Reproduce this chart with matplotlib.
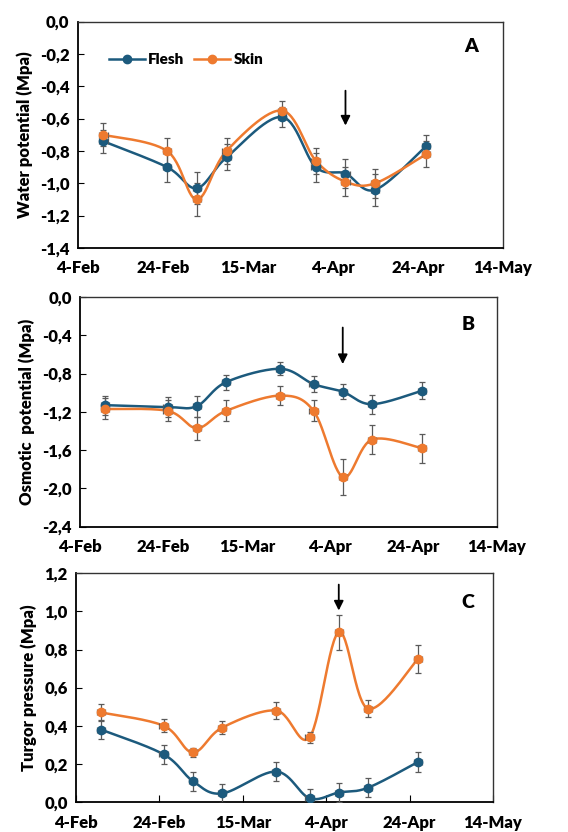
import numpy as np
import matplotlib
matplotlib.use('Agg')
import matplotlib.pyplot as plt
import matplotlib.dates as mdates
from datetime import date

plt.rcParams['font.family'] = ['Lato', 'DejaVu Sans']
plt.rcParams['font.weight'] = 'heavy'

FLESH = '#1c5a7d'; SKIN = '#ee7a2f'; ERRC = '#5a5a5a'

dates = [date(2016, 2, 10), date(2016, 2, 25), date(2016, 3, 3), date(2016, 3, 10), date(2016, 3, 23),
         date(2016, 3, 31), date(2016, 4, 7), date(2016, 4, 14), date(2016, 4, 26)]
tick_dates = [date(2016, 2, 4), date(2016, 2, 24), date(2016, 3, 15), date(2016, 4, 4), date(2016, 4, 24), date(2016, 5, 14)]
tick_labels = ['4-Feb', '24-Feb', '15-Mar', '4-Apr', '24-Apr', '14-May']

# A: water potential
wp_flesh = [-0.74, -0.90, -1.03, -0.84, -0.59, -0.90, -0.94, -1.04, -0.77]
wp_flesh_err = [0.07, 0.09, 0.10, 0.08, 0.06, 0.09, 0.09, 0.10, 0.07]
wp_skin = [-0.70, -0.80, -1.10, -0.80, -0.55, -0.86, -0.99, -1.00, -0.82]
wp_skin_err = [0.07, 0.08, 0.10, 0.08, 0.06, 0.08, 0.09, 0.09, 0.08]

# B: osmotic potential
op_flesh = [-1.13, -1.15, -1.14, -0.89, -0.75, -0.91, -0.99, -1.12, -0.98]
op_flesh_err = [0.10, 0.10, 0.11, 0.08, 0.07, 0.08, 0.08, 0.10, 0.09]
op_skin = [-1.17, -1.19, -1.37, -1.19, -1.03, -1.19, -1.88, -1.49, -1.58]
op_skin_err = [0.11, 0.11, 0.12, 0.11, 0.10, 0.11, 0.19, 0.15, 0.15]

# C: turgor pressure
tp_flesh = [0.38, 0.25, 0.11, 0.045, 0.16, 0.02, 0.05, 0.075, 0.21]
tp_flesh_err = [0.05, 0.05, 0.05, 0.05, 0.05, 0.05, 0.05, 0.05, 0.05]
tp_skin = [0.47, 0.40, 0.26, 0.39, 0.48, 0.34, 0.89, 0.49, 0.75]
tp_skin_err = [0.045, 0.035, 0.025, 0.035, 0.045, 0.03, 0.09, 0.045, 0.075]


def smooth(x, y, n=30):
    # excel-like bezier smoothing
    x = np.asarray(x, float); y = np.asarray(y, float)
    px = np.concatenate([[x[0]], x, [x[-1]]]); py = np.concatenate([[y[0]], y, [y[-1]]])
    xs, ys = [], []
    t = np.linspace(0, 1, n)
    for i in range(len(x) - 1):
        p0 = np.array([x[i], y[i]]); p3 = np.array([x[i + 1], y[i + 1]])
        p1 = p0 + (np.array([px[i + 2], py[i + 2]]) - np.array([px[i], py[i]])) / 6
        p2 = p3 - (np.array([px[i + 3], py[i + 3]]) - np.array([px[i + 1], py[i + 1]])) / 6
        b = ((1 - t) ** 3)[:, None] * p0 + (3 * (1 - t) ** 2 * t)[:, None] * p1 + (3 * (1 - t) * t ** 2)[:, None] * p2 + (t ** 3)[:, None] * p3
        xs.append(b[:, 0]); ys.append(b[:, 1])
    return np.concatenate(xs), np.concatenate(ys)


xnum = mdates.date2num(dates)
fig = plt.figure(figsize=(5.68, 8.32), dpi=100)
panels = [
    ([0.137, 0.702, 0.748, 0.272], wp_flesh, wp_flesh_err, wp_skin, wp_skin_err, (-1.4, 0.0), 0.2,
     'Water potential (Mpa)', 'A', (0.927, 0.89), (-0.41, -0.66), 0),
    ([0.141, 0.367, 0.734, 0.276], op_flesh, op_flesh_err, op_skin, op_skin_err, (-2.4, 0.0), 0.4,
     'Osmotic  potential (Mpa)', 'B', (0.93, 0.88), (-0.29, -0.73), 0),
    ([0.134, 0.036, 0.734, 0.275], tp_flesh, tp_flesh_err, tp_skin, tp_skin_err, (0.0, 1.2), 0.2,
     'Turgor pressure (Mpa)', 'C', (0.94, 0.87), (1.155, 0.99), 5),
]

for k, (pos, fl, fle, sk, ske, ylim, ystep, ylab, letter, lpos, arr, xtl) in enumerate(panels):
    ax = fig.add_axes(pos)
    for vals, errs, col, lab in [(fl, fle, FLESH, 'Flesh'), (sk, ske, SKIN, 'Skin')]:
        sx, sy = smooth(xnum, vals)
        ax.plot(sx, sy, color=col, lw=1.8, zorder=2)
        ax.errorbar(xnum, vals, yerr=errs, xerr=1.0, fmt='none', ecolor=ERRC, elinewidth=0.9, capsize=2.5, capthick=0.9, zorder=3)
        ax.plot(xnum, vals, 'o', color=col, ms=6, zorder=4)
        ax.plot([], [], '-o', color=col, lw=1.8, ms=6, label=lab)
    ax.set_xlim(mdates.date2num(tick_dates[0]), mdates.date2num(tick_dates[-1]))
    ax.set_ylim(*ylim)
    yt = np.arange(ylim[0], ylim[1] + 1e-9, ystep)
    ax.set_yticks(yt)
    ax.set_yticklabels([f'{v:.1f}'.replace('.', ',').replace('-0,0', '0,0') for v in yt])
    ax.set_xticks(mdates.date2num(tick_dates))
    ax.set_xticklabels(tick_labels)
    ax.tick_params(axis='y', direction='in', length=4, width=0.8, labelsize=12, pad=6)
    ax.tick_params(axis='x', direction='in', length=xtl, width=0.8, labelsize=12, pad=9)
    for lbl in ax.get_xticklabels() + ax.get_yticklabels():
        lbl.set_fontweight('heavy')
    for s in ax.spines.values():
        s.set_linewidth(1.0); s.set_color('#333333')
    ax.spines['bottom'].set_color('black'); ax.spines['bottom'].set_linewidth(1.3)
    ax.spines['left'].set_color('black'); ax.spines['left'].set_linewidth(1.3)
    ax.set_ylabel(ylab, fontsize=12, fontweight='heavy', labelpad=5)
    ax.text(lpos[0], lpos[1], letter, transform=ax.transAxes, fontsize=14, fontweight='heavy', ha='center', va='center')
    xa = mdates.date2num(date(2016, 4, 7))
    ax.annotate('', xy=(xa, arr[1]), xytext=(xa, arr[0]),
                arrowprops=dict(arrowstyle='-|>', color='black', lw=1.3, mutation_scale=14))
    if k == 0:
        ax.legend(loc='upper left', bbox_to_anchor=(0.04, 0.92), frameon=False, ncol=2,
                  handlelength=2.4, columnspacing=0.6, handletextpad=0.2, prop={'weight': 'heavy', 'size': 11})

fig.savefig('out.png', dpi=100)
